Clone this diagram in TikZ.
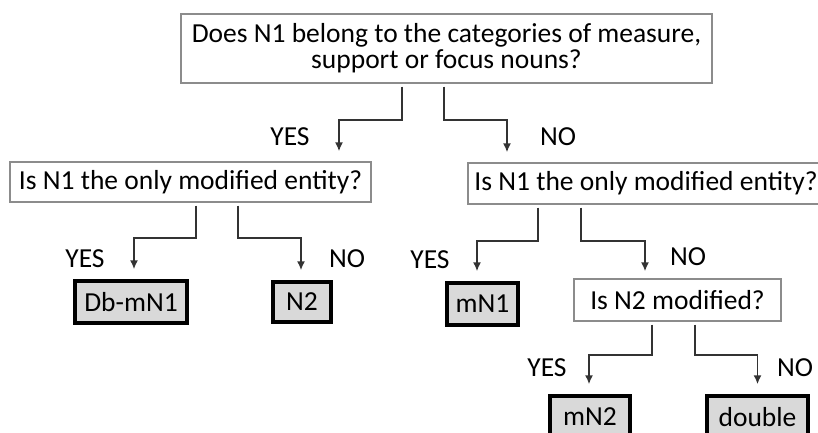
\documentclass[tikz,border=0pt]{standalone}
\usepackage{fontspec}
\setmainfont{Carlito}
\usepackage{xcolor}
\usepackage{tikz}
\usetikzlibrary{arrows.meta}

\definecolor{boxgray}{HTML}{8C8C8C}
\definecolor{linegray}{HTML}{333333}
\definecolor{leafgray}{HTML}{D9D9D9}

\begin{document}
\begin{tikzpicture}[x=1pt,y=1pt,
    font=\fontsize{27.5}{26}\selectfont,
    question/.style={draw=boxgray,line width=1.3pt,inner sep=0pt,align=center},
    leaf/.style={draw=black,fill=leafgray,line width=3.4pt,inner sep=0pt},
    arr/.style={draw=linegray,line width=1.7pt,-{Latex[length=9pt,width=8pt]},shorten <=3pt,shorten >=10pt},
    answer/.style={inner sep=0pt}]
    \useasboundingbox (0,0) rectangle (818,432);

    % questions
    \node[question,minimum width=531pt,minimum height=69pt](top) at (446.5,383.5)
        {Does N1 belong to the categories of measure,\\ support or focus nouns?};
    \node[question,minimum width=361pt,minimum height=40pt](leftq) at (190.5,250)
        {Is N1 the only modified entity?};
    \node[question,minimum width=356pt,minimum height=41pt](rightq) at (646,248.5)
        {Is N1 the only modified entity?};
    \node[question,minimum width=207pt,minimum height=42pt](modq) at (677.5,132)
        {Is N2 modified?};

    % results
    \node[leaf,minimum width=112pt,minimum height=42pt](dbmn1) at (131,130) {Db-mN1};
    \node[leaf,minimum width=58pt,minimum height=40pt](ntwo) at (302,130) {N2};
    \node[leaf,minimum width=71pt,minimum height=42pt](mnone) at (482.5,128) {mN1};
    \node[leaf,minimum width=80pt,minimum height=42pt](mntwo) at (590,15) {mN2};
    \node[leaf,minimum width=101pt,minimum height=42pt](dbl) at (757.5,15) {double};

    % connectors
    \draw[arr] ([xshift=-44.5pt]top.south) -- ++(0,-36) -| ([xshift=148.5pt]leftq.north);
    \draw[arr] ([xshift=-2.5pt]top.south) -- ++(0,-36) -| ([xshift=-139pt]rightq.north);
    \draw[arr] ([xshift=5.5pt]leftq.south) -- ++(0,-35) -| ([xshift=3pt]dbmn1.north);
    \draw[arr] ([xshift=47.5pt]leftq.south) -- ++(0,-35) -| ([xshift=-1pt]ntwo.north);
    \draw[arr] ([xshift=-108pt]rightq.south) -- ++(0,-36) -| ([xshift=-5.5pt]mnone.north);
    \draw[arr,shorten >=7pt] ([xshift=-65pt]rightq.south) -- ++(0,-36) -| ([xshift=-32.5pt]modq.north);
    \draw[arr] ([xshift=-25.5pt]modq.south) -- ++(0,-33) -| ([xshift=-1pt]mntwo.north);
    \draw[arr] ([xshift=17.5pt]modq.south) -- ++(0,-33) -| (dbl.north);

    % answers
    \node[answer](yes1) at (290,295) {YES};
    \node[answer](no1) at (558,295) {NO};
    \node[answer](yes2) at (85,173) {YES};
    \node[answer](no2) at (347,173) {NO};
    \node[answer](yes3) at (430,172) {YES};
    \node[answer](no3) at (688,175) {NO};
    \node[answer](yes4) at (547,64) {YES};
    \node[answer](no4) at (795,64) {NO};
\end{tikzpicture}
\end{document}
